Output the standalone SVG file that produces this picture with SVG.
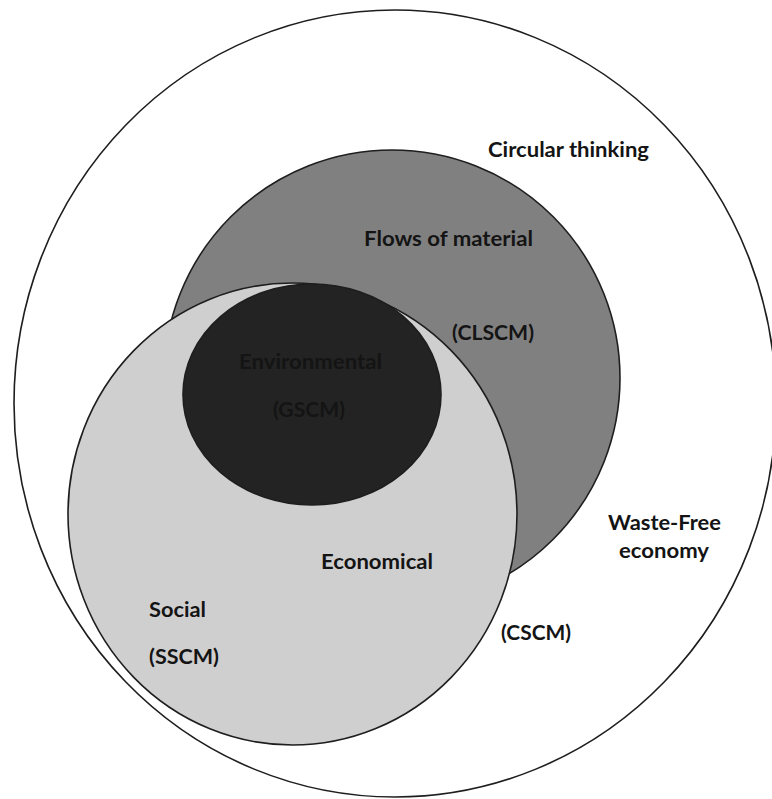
<svg xmlns="http://www.w3.org/2000/svg" width="772" height="799" viewBox="0 0 772 799">
<style>
.sh{stroke:#1e1e1e;stroke-width:1.6}
.t{font-family:Lato,"Liberation Sans",sans-serif;font-weight:700;font-size:21px;fill:#141414}
</style>
<rect width="772" height="799" fill="#ffffff"/>
<g id="outer"><ellipse class="sh" cx="395" cy="403.5" rx="381" ry="393.5" fill="#ffffff"/></g>
<g id="clscm"><ellipse class="sh" cx="392" cy="378" rx="228" ry="228" fill="#808080"/></g>
<g id="sscm"><ellipse class="sh" cx="292.5" cy="514" rx="224.5" ry="231" fill="#d0cfd0"/></g>
<g id="gscm"><ellipse class="sh" cx="312" cy="394.5" rx="129" ry="110.5" fill="#232323"/></g>
<g id="connectors"></g>
<g id="labels">
<text class="t" x="488" y="157" textLength="161" lengthAdjust="spacingAndGlyphs">Circular thinking</text>
<text class="t" x="364" y="246" textLength="169" lengthAdjust="spacingAndGlyphs">Flows of material</text>
<text class="t" x="452" y="340" textLength="82" lengthAdjust="spacingAndGlyphs">(CLSCM)</text>
<text class="t" x="239" y="369" textLength="143" lengthAdjust="spacingAndGlyphs">Environmental</text>
<text class="t" x="273" y="417" textLength="72" lengthAdjust="spacingAndGlyphs">(GSCM)</text>
<text class="t" x="321" y="569" textLength="112" lengthAdjust="spacingAndGlyphs">Economical</text>
<text class="t" x="149" y="617" textLength="57" lengthAdjust="spacingAndGlyphs">Social</text>
<text class="t" x="149" y="664" textLength="70" lengthAdjust="spacingAndGlyphs">(SSCM)</text>
<text class="t" x="501" y="640" textLength="70" lengthAdjust="spacingAndGlyphs">(CSCM)</text>
<text class="t" x="608" y="530" textLength="113" lengthAdjust="spacingAndGlyphs">Waste-Free</text>
<text class="t" x="619" y="558" textLength="90" lengthAdjust="spacingAndGlyphs">economy</text>
</g>
</svg>
